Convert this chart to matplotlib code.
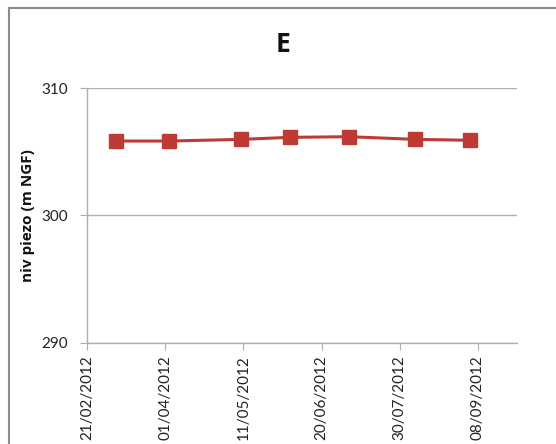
import matplotlib
matplotlib.use('Agg')
import matplotlib.pyplot as plt
import matplotlib.dates as mdates
from matplotlib.patches import Rectangle
import datetime as dt

# measurement dates and piezometric levels (m NGF)
dates = ['2012-03-07', '2012-04-03', '2012-05-10', '2012-06-04',
         '2012-07-04', '2012-08-07', '2012-09-04']
levels = [305.84, 305.84, 305.97, 306.13, 306.18, 305.97, 305.90]
title = 'E'
ylabel = 'niv piezo (m NGF)'

plt.rcParams['font.family'] = ['Lato', 'DejaVu Sans']

x = [dt.datetime.strptime(d, '%Y-%m-%d') for d in dates]

fig = plt.figure(figsize=(5.56, 4.44), dpi=100)
ax = fig.add_axes([0.1565, 0.2275, 0.7735, 0.5743])

# chart-area border (extends past the right/bottom edge like the original)
fig.patches.append(Rectangle((9 / 556, -0.1), 1.2, 1.1 - 8 / 444,
                             transform=fig.transFigure, fill=False,
                             edgecolor='#8c8c8c', linewidth=1.5))

ax.plot(x, levels, color='#be3a34', linewidth=2.2, marker='s',
        markersize=10.5, markerfacecolor='#be3a34', markeredgecolor='#be3a34',
        zorder=3)

ax.set_ylim(290, 310)
ax.set_yticks([290, 300, 310])
ax.set_xlim(dt.datetime(2012, 2, 21), dt.datetime(2012, 9, 28))
xt = [dt.datetime(2012, 2, 21) + dt.timedelta(days=40 * i) for i in range(6)]
ax.set_xticks(xt)
ax.xaxis.set_major_formatter(mdates.DateFormatter('%d/%m/%Y'))
ax.yaxis.grid(True, color='#b0b0b0', linewidth=1)
ax.set_axisbelow(True)

for s in ['top', 'right']:
    ax.spines[s].set_visible(False)
for s in ['left', 'bottom']:
    ax.spines[s].set_color('#b0b0b0')
    ax.spines[s].set_linewidth(1)

ax.tick_params(axis='both', colors='#b0b0b0', labelcolor='#222222',
               labelsize=11, length=5, direction='out')
ax.tick_params(axis='y', pad=9)
plt.setp(ax.get_xticklabels(), rotation=90, va='top', ha='center')

ax.set_ylabel(ylabel, fontsize=11, fontweight='bold',
              family=['Open Sans', 'DejaVu Sans'], color='#111111')
ax.yaxis.set_label_coords(-0.12, 0.5)
fig.text(283 / 556, 1 - 45 / 444, title, fontsize=19, fontweight='bold',
         family=['Open Sans', 'DejaVu Sans'],
         ha='center', va='center', color='#111111')

fig.savefig('out.png', dpi=100)
